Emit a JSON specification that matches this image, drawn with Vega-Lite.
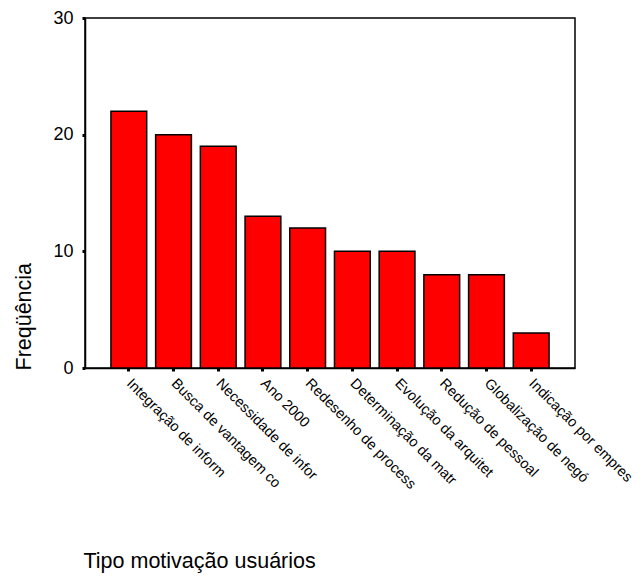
{
  "$schema": "https://vega.github.io/schema/vega-lite/v6.json",
  "width": 490,
  "height": 350,
  "padding": {"left": 85, "top": 18, "right": 69, "bottom": 208},
  "autosize": {"type": "none"},
  "background": "white",
  "config": {
    "view": {"stroke": "black", "strokeWidth": 1.5},
    "font": "Liberation Sans"
  },
  "data": {
    "values": [
      {"tipo": "Integração de inform", "freq": 22},
      {"tipo": "Busca de vantagem co", "freq": 20},
      {"tipo": "Necessidade de infor", "freq": 19},
      {"tipo": "Ano 2000", "freq": 13},
      {"tipo": "Redesenho de process", "freq": 12},
      {"tipo": "Determinação da matr", "freq": 10},
      {"tipo": "Evolução da arquitet", "freq": 10},
      {"tipo": "Redução de pessoal", "freq": 8},
      {"tipo": "Globalização de negó", "freq": 8},
      {"tipo": "Indicação por empres", "freq": 3}
    ]
  },
  "mark": {"type": "bar", "fill": "#ff0000", "stroke": "black", "strokeWidth": 1.5},
  "encoding": {
    "x": {
      "field": "tipo",
      "type": "nominal",
      "sort": null,
      "scale": {"paddingInner": 0.2, "paddingOuter": 0.58},
      "axis": {
        "title": "Tipo motivação usuários",
        "titleFont": "Liberation Sans",
        "titleFontSize": 21.5,
        "titleFontWeight": "normal",
        "titleColor": "black",
        "titleAnchor": "start",
        "titleAlign": "left",
        "titleBaseline": "alphabetic",
        "titleX": -2,
        "titleY": 199,
        "labelAngle": 45,
        "labelAlign": "left",
        "labelBaseline": "middle",
        "labelFont": "Liberation Sans",
        "labelFontSize": 14.5,
        "labelColor": "black",
        "labelPadding": 10,
        "labelLimit": 300,
        "domainColor": "black",
        "domainWidth": 1.5,
        "tickColor": "black",
        "tickSize": 3,
        "tickWidth": 3
      }
    },
    "y": {
      "field": "freq",
      "type": "quantitative",
      "scale": {"domain": [0, 30], "nice": false},
      "axis": {
        "title": "Freqüência",
        "titleFont": "Liberation Sans",
        "titleFontSize": 21.5,
        "titleFontWeight": "normal",
        "titleColor": "black",
        "titleAnchor": "start",
        "titleAlign": "left",
        "titleX": -55,
        "titleY": 352,
        "titleAngle": -90,
        "titleBaseline": "alphabetic",
        "values": [0, 10, 20, 30],
        "grid": false,
        "labelFontSize": 18,
        "labelColor": "black",
        "labelPadding": 9,
        "domainColor": "black",
        "domainWidth": 1.5,
        "tickColor": "black",
        "tickSize": 3,
        "tickWidth": 3
      }
    }
  }
}
